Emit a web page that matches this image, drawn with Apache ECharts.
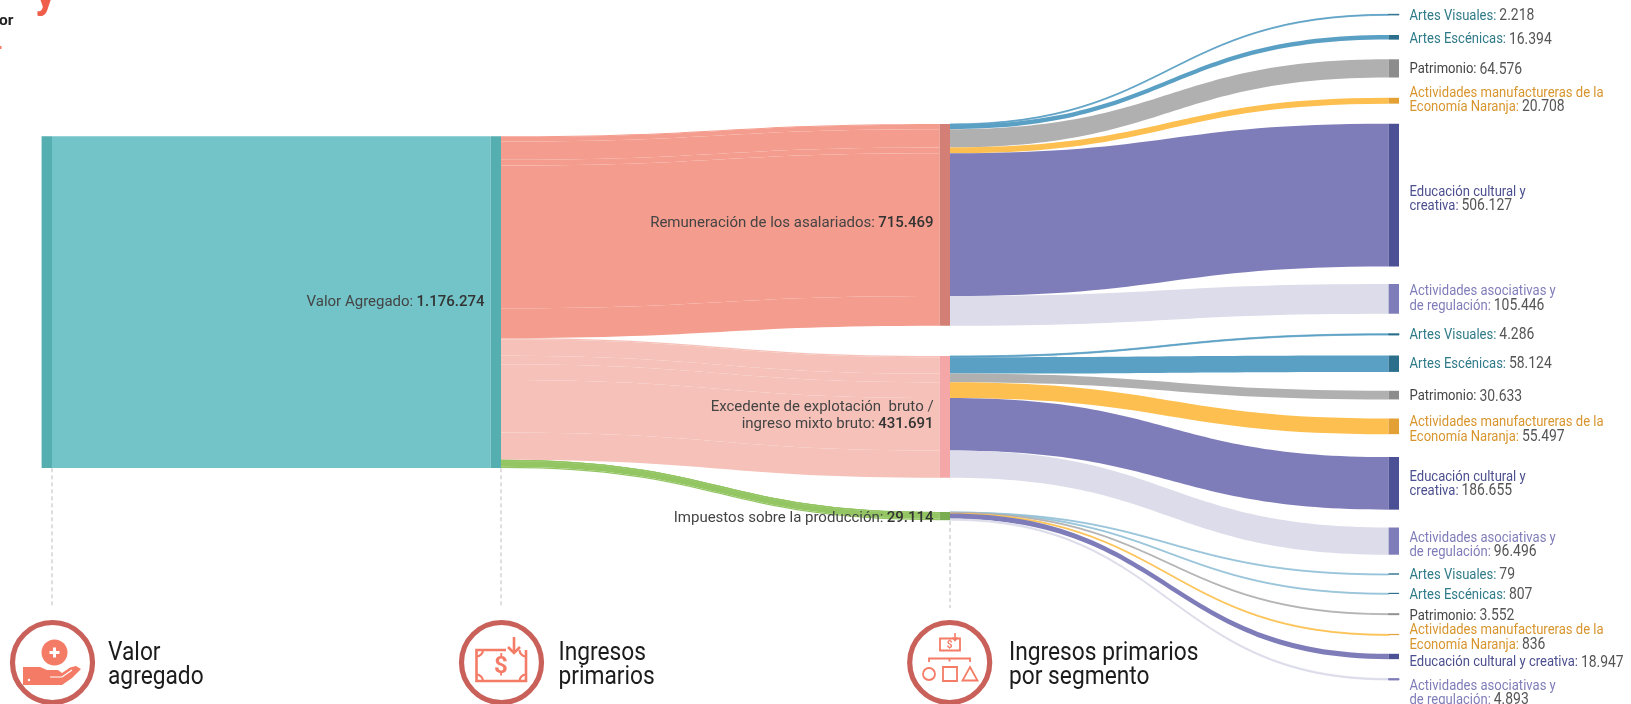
<!DOCTYPE html>
<html><head><meta charset="utf-8">
<style>html,body{margin:0;padding:0;background:#fff;overflow:hidden}#c{width:1631px;height:704px}</style>
<script src="https://cdn.jsdelivr.net/npm/echarts@6/dist/echarts.min.js"></script>
</head><body><div id="c"></div>
<script>
// ---- values ----
const segmentNames = ['Artes Visuales','Artes Escénicas','Patrimonio','Actividades manufactureras de la Economía Naranja','Educación cultural y creativa','Actividades asociativas y de regulación'];
const remuneracionValues = [2218,16394,64576,20708,506127,105446];
const excedenteValues = [4286,58124,30633,55497,186655,96496];
const impuestosValues = [79,807,3552,836,18947,4893];
const primaryNames = ['Remuneración de los asalariados','Excedente de explotación  bruto /\ningreso mixto bruto','Impuestos sobre la producción'];
const rootName = 'Valor Agregado';
const stepTitles = ['Valor\nagregado','Ingresos\nprimarios','Ingresos primarios\npor segmento'];

// ---- layout & style (pixels) ----
const W = 1631, H = 704, KY = 0.000282, NODE_W = 10.4;
const colX = [41.6, 490.6, 939.6, 1388.6];
const rootTop = 136.3;
const primaryTops = [124, 356, 512];
const primaryLabelOffsets = [-2, -1, 2];
const segmentTops = [
  [14.3, 35, 59.3, 97.8, 123.8, 284],
  [333.8, 355.5, 390.8, 418.5, 457, 527.5],
  [574, 593.3, 613.7, 634.4, 653.8, 678.6]
];
const segmentLabelY = [
  [16, 39.5, 69.5, 100, 199, 298.5],
  [335, 364, 396.5, 429.5, 484, 545],
  [575, 595, 616, 637.5, 662.5, 693]
];
const labelBreaks = [
  ['Artes Visuales:','Artes Escénicas:','Patrimonio:','Actividades manufactureras de la\nEconomía Naranja:','Educación cultural y\ncreativa:','Actividades asociativas y\nde regulación:'],
  ['Artes Visuales:','Artes Escénicas:','Patrimonio:','Actividades manufactureras de la\nEconomía Naranja:','Educación cultural y\ncreativa:','Actividades asociativas y\nde regulación:'],
  ['Artes Visuales:','Artes Escénicas:','Patrimonio:','Actividades manufactureras de la\nEconomía Naranja:','Educación cultural y creativa:','Actividades asociativas y\nde regulación:']
];
const linkColors = ['#5a9fc4','#5a9fc4','#b0b0b0','#fdc050','#7f7db9','#dcdcea'];
const faintLinkColor = '#94c2d8';
const nodeColors = ['#2b6f8c','#2b6f8c','#8c8c8c','#e2a035','#4c5095','#7f7db9'];
const nameColors = ['#2f7a88','#2f7a88','#444444','#d8952e','#4b4f8f','#7f7db9'];
const primaryLinkColors = ['#f49d8e','#f5c1b8','#93c563'];
const primaryNodeColors = ['#d47f75','#f5a6a6','#7aac52'];
const INK = '#f47c66', RING = '#c9605a';

const fmt = v => String(v).replace(/\B(?=(\d{3})+$)/g, '.');
const sum = a => a.reduce((s, v) => s + v, 0);
const richName = (text, tag) => text.split('\n').map(l => `{${tag}|${l}}`).join('\n');

const groups = [remuneracionValues, excedenteValues, impuestosValues];
const nodes = [], links = [];
const node = (name, x, y, color, label, thin) => nodes.push({
  name, localX: x / W, localY: y / H,
  itemStyle: thin ? { color, borderColor: color, borderWidth: 0.9 } : { color, borderWidth: 0 },
  label
});

node('origen', colX[0], rootTop, '#55aeb0', { show: false });
node(rootName, colX[1], rootTop, '#55aeb0', {
  show: true, position: 'left', distance: 6, align: 'right',
  formatter: `{m|${rootName}:} {b|${fmt(sum(groups.flat()))}}`
});
groups.forEach((vals, g) => {
  const pn = primaryNames[g].replace(/\n/g, ' ');
  node(pn, colX[2], primaryTops[g], primaryNodeColors[g], {
    show: true, position: 'left', distance: 6, align: 'right', offset: [0, primaryLabelOffsets[g]],
    formatter: `${richName(primaryNames[g], 'm').replace(/\}$/, ':}')} {b|${fmt(sum(vals))}}`
  });
});
groups.forEach((vals, g) => vals.forEach((v, i) => {
  node(segmentNames[i] + ' #' + g, colX[3], segmentTops[g][i], nodeColors[i], { show: false }, v < 6000);
}));
links.push({ source: 'origen', target: rootName, value: sum(groups.flat()), lineStyle: { color: '#72c4c8' } });
groups.forEach((vals, g) => {
  const pn = primaryNames[g].replace(/\n/g, ' ');
  vals.forEach(v => links.push({ source: rootName, target: pn, value: v, lineStyle: { color: primaryLinkColors[g] } }));
});
groups.forEach((vals, g) => {
  const pn = primaryNames[g].replace(/\n/g, ' ');
  vals.forEach((v, i) => {
    const color = v < 1000 && i < 2 ? faintLinkColor : linkColors[i];
    links.push({
      source: pn, target: segmentNames[i] + ' #' + g, value: v,
      lineStyle: v < 6000 ? { color, borderColor: color, borderWidth: 0.8 } : { color }
    });
  });
});

const rich = {
  m: { fontFamily: 'Roboto', fontSize: 15, color: '#444', lineHeight: 16.5 },
  b: { fontFamily: 'Roboto', fontSize: 15, fontWeight: 500, color: '#333', lineHeight: 16.5 }
};

// ---- text set in a condensed cut (Roboto squeezed horizontally) ----
const g = [];
const textRich = { v: { fontFamily: 'Roboto', fontSize: 16, fill: '#555', lineHeight: 14.5 } };
nameColors.forEach((c, i) => textRich['s' + i] = { fontFamily: 'Roboto', fontSize: 15, fill: c, lineHeight: 14.5 });
groups.forEach((vals, gi) => vals.forEach((v, i) => g.push({
  type: 'text', silent: true, z: 12, x: 1409.5, y: segmentLabelY[gi][i], scaleX: 0.87,
  style: { text: `${richName(labelBreaks[gi][i], 's' + i)} {v|${fmt(v)}}`, rich: textRich, align: 'left', verticalAlign: 'middle' }
})));

// ---- decoration ----
const stroke = (w, color) => ({ fill: 'none', stroke: color || INK, lineWidth: w });
const add = (type, shape, style) => g.push({ type, shape, style, silent: true, z: 10 });
const dash = (x, y1, y2) => g.push({ type: 'line', silent: true, z: 1, shape: { x1: x, y1, x2: x, y2 }, style: { stroke: '#bdbdbd', lineWidth: 1, lineDash: [4, 3] } });
dash(colX[0] + NODE_W, rootTop + 332, 608);
dash(colX[1] + NODE_W, rootTop + 332, 608);
dash(colX[2] + NODE_W, 521, 608);
[52.5, 501.5, 949.7].forEach(cx => add('circle', { cx, cy: 662.5, r: 40 }, stroke(5.2, RING)));
const titleX = [108, 558.5, 1009];
stepTitles.forEach((t, i) => t.split('\n').forEach((line, j) => g.push({
  type: 'text', silent: true, z: 10, x: titleX[i], y: 653.5 + j * 24.5, scaleX: 0.91,
  style: { text: line, fill: '#1c1c1c', fontFamily: 'Roboto', fontSize: 25, align: 'left', verticalAlign: 'middle' }
})));
// hand + coin
add('circle', { cx: 54.5, cy: 652.5, r: 13 }, { fill: INK });
add('rect', { x: 53, y: 647.5, width: 3, height: 10 }, { fill: '#fff' });
add('rect', { x: 49.5, y: 651, width: 10, height: 3 }, { fill: '#fff' });
add('polygon', { points: [[23,667],[40,667],[47,670],[58,670],[62,673],[70,667.5],[76,666],[81,669],[72,678],[62,685],[42,685],[23,685]] }, { fill: INK });
add('polyline', { points: [[50,677],[62,677],[72,670]] }, { fill: 'none', stroke: '#fff', lineWidth: 1.2 });
add('circle', { cx: 29, cy: 680, r: 1.2 }, { fill: '#fff' });
// banknote
add('polyline', { points: [[506,650],[476.5,650],[476.5,681],[526,681],[526,650]] }, stroke(2.6));
add('line', { x1: 514, y1: 637, x2: 514, y2: 652 }, stroke(2.6));
add('polyline', { points: [[508,647],[514,653],[520,647]] }, stroke(2.6));
[[476.5,650,0,Math.PI/2],[526,650,Math.PI/2,Math.PI],[476.5,681,-Math.PI/2,0],[526,681,Math.PI,Math.PI*1.5]].forEach(([cx, cy, startAngle, endAngle]) =>
  add('arc', { cx, cy, r: 6.5, startAngle, endAngle, clockwise: true }, stroke(2.2)));
g.push({ type: 'text', silent: true, z: 11, x: 501, y: 667, style: { text: '$', fill: INK, fontFamily: 'Roboto', fontWeight: 'bold', fontSize: 24, align: 'center', verticalAlign: 'middle' } });
// segment icon
add('rect', { x: 940, y: 638.5, width: 20, height: 12 }, stroke(1.8));
g.push({ type: 'text', silent: true, z: 11, x: 949.5, y: 645, style: { text: '$', fill: INK, fontFamily: 'Roboto', fontWeight: 'bold', fontSize: 10, align: 'center', verticalAlign: 'middle' } });
add('line', { x1: 955, y1: 633, x2: 955, y2: 640 }, stroke(1.6));
add('polyline', { points: [[952.5,637.5],[955,640.5],[957.5,637.5]] }, stroke(1.6));
add('polyline', { points: [[929,662],[929,658.5],[970,658.5],[970,662]] }, stroke(1.8));
add('line', { x1: 949.5, y1: 658.5, x2: 949.5, y2: 661.5 }, stroke(1.8));
add('circle', { cx: 929, cy: 674, r: 6 }, stroke(1.8));
add('rect', { x: 943, y: 667, width: 14, height: 14 }, stroke(1.8));
add('polygon', { points: [[970,667],[977.5,680.5],[962.5,680.5]] }, stroke(1.8));
// cropped page title remnants
g.push({ type: 'text', silent: true, z: 11, x: 35, y: -25, style: { text: 'y', fill: '#ef5d4b', fontFamily: 'Roboto', fontWeight: 'bold', fontSize: 42, verticalAlign: 'top' } });
g.push({ type: 'text', silent: true, z: 11, x: -1, y: 13, style: { text: 'or', fill: '#222', fontFamily: 'Roboto', fontWeight: 'bold', fontSize: 15.5, verticalAlign: 'top' } });
add('rect', { x: 0, y: 46, width: 1.5, height: 3 }, { fill: INK });

const chart = echarts.init(document.getElementById('c'), null, { renderer: 'canvas' });
chart.setOption({
  backgroundColor: '#fff',
  animation: false,
  tooltip: { show: false },
  graphic: { elements: g },
  series: [{
    type: 'sankey',
    left: 0, top: 0, width: W, height: H,
    nodeWidth: NODE_W,
    nodeGap: (H - KY * sum(groups.flat())) / 17,
    layoutIterations: 0,
    nodeAlign: 'justify',
    draggable: false,
    silent: true,
    emphasis: { disabled: true },
    label: { rich, color: '#444' },
    lineStyle: { opacity: 1, curveness: 0.5 },
    data: nodes,
    links
  }]
});
</script></body></html>
